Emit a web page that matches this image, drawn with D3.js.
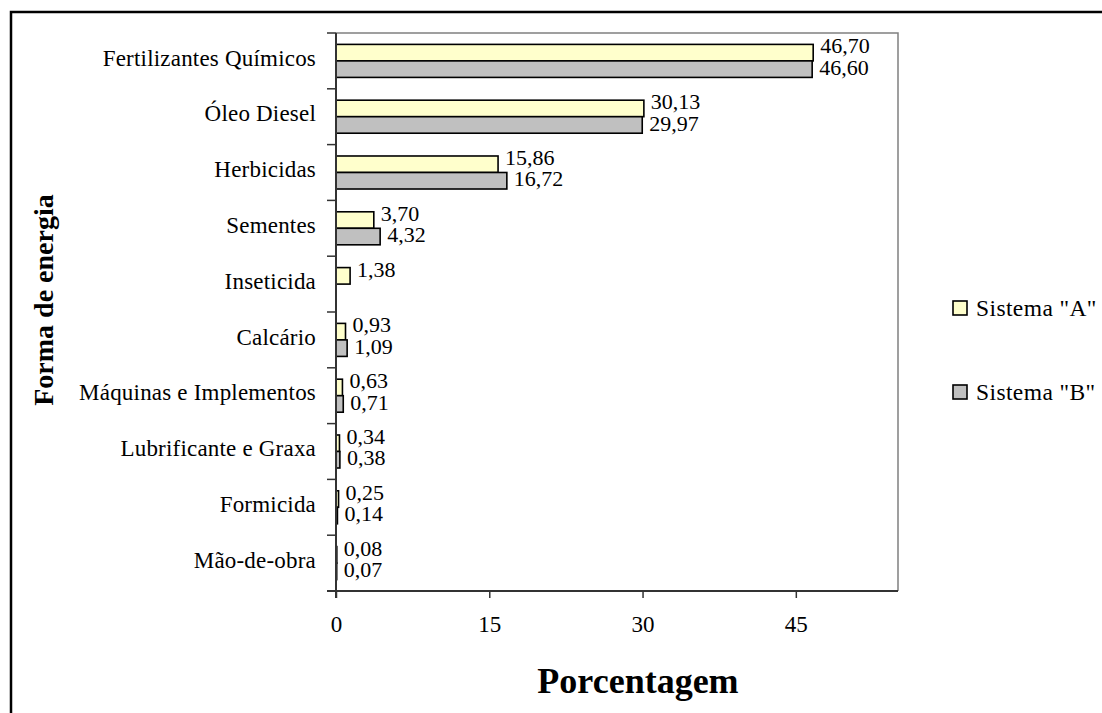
<!DOCTYPE html>
<html>
<head>
<meta charset="utf-8">
<script src="https://cdn.jsdelivr.net/npm/d3@7"></script>
<style>
  html, body { margin: 0; padding: 0; background: #fff; }
  svg { display: block; }
  text { font-family: "Liberation Serif", "Times New Roman", serif; fill: #000; }
</style>
</head>
<body>
<svg id="chart" width="1102" height="713"></svg>
<script>
// Energy inputs (percentage of total) for two production systems
const categories = [
  "Fertilizantes Químicos", "Óleo Diesel", "Herbicidas", "Sementes", "Inseticida",
  "Calcário", "Máquinas e Implementos", "Lubrificante e Graxa", "Formicida", "Mão-de-obra"
];
const sistemaA = [46.70, 30.13, 15.86, 3.70, 1.38, 0.93, 0.63, 0.34, 0.25, 0.08];
const sistemaB = [46.60, 29.97, 16.72, 4.32, null, 1.09, 0.71, 0.38, 0.14, 0.07];
const seriesNames = ['Sistema "A"', 'Sistema "B"'];
const xTicks = [0, 15, 30, 45];
const xMax = 55;

const svg = d3.select("#chart");
const plot = { left: 336, top: 33, right: 898, bottom: 591 };
const colors = ["#FFFFCC", "#C0C0C0"];
const serif = '"Liberation Serif", "Times New Roman", serif';

// Outer chart frame (continues past the visible page)
svg.append("rect")
  .attr("x", 11).attr("y", 12).attr("width", 1300).attr("height", 900)
  .attr("fill", "none").attr("stroke", "#000").attr("stroke-width", 2.5);

const x = d3.scaleLinear().domain([0, xMax]).range([plot.left, plot.right]);
const y0 = d3.scaleBand().domain(categories).range([plot.top, plot.bottom]).padding(0);
const y1 = d3.scaleBand().domain([0, 1]).range([0, y0.bandwidth()])
  .paddingInner(0).paddingOuter(0.69);

// Plot-area frame (top and right edges)
svg.append("path")
  .attr("d", `M${plot.left},${plot.top}H${plot.right}V${plot.bottom}`)
  .attr("fill", "none").attr("stroke", "#808080").attr("stroke-width", 1.5);

// Bars
const rows = [];
categories.forEach((c, i) => {
  [sistemaA[i], sistemaB[i]].forEach((v, s) => {
    if (v !== null) rows.push({ cat: c, s, v });
  });
});

svg.append("g").selectAll("rect").data(rows).join("rect")
  .attr("x", x(0))
  .attr("y", d => y0(d.cat) + y1(d.s))
  .attr("width", d => x(d.v) - x(0))
  .attr("height", y1.bandwidth())
  .attr("fill", d => colors[d.s])
  .attr("stroke", "#000").attr("stroke-width", 1.6);

// Value labels
const fmt = v => d3.format(".2f")(v).replace(".", ",");
const labelDy = [-7, -2];
svg.append("g").selectAll("text").data(rows).join("text")
  .attr("x", d => x(d.v) + 7)
  .attr("y", d => y0(d.cat) + y1(d.s) + y1.bandwidth() / 2 + labelDy[d.s])
  .attr("dy", "0.35em")
  .attr("font-size", 22)
  .text(d => fmt(d.v));

// Y axis: category boundaries as ticks
const yAxisG = svg.append("g");
yAxisG.append("line")
  .attr("x1", plot.left).attr("x2", plot.left)
  .attr("y1", plot.top).attr("y2", plot.bottom + 7)
  .attr("stroke", "#333").attr("stroke-width", 2);
const bounds = categories.map(c => y0(c)).concat([plot.bottom]);
yAxisG.selectAll("line.tick").data(bounds).join("line")
  .attr("class", "tick")
  .attr("x1", plot.left - 9).attr("x2", plot.left)
  .attr("y1", d => d).attr("y2", d => d)
  .attr("stroke", "#333").attr("stroke-width", 1.5);
yAxisG.selectAll("text").data(categories).join("text")
  .attr("x", plot.left - 20)
  .attr("y", d => y0(d) + y0.bandwidth() / 2)
  .attr("dy", "0.2em")
  .attr("text-anchor", "end")
  .attr("font-size", 23)
  .attr("letter-spacing", 0.2)
  .text(d => d);

// X axis
const xAxis = d3.axisBottom(x).tickValues(xTicks).tickSize(7).tickPadding(18).tickFormat(d3.format("d"));
const xg = svg.append("g").attr("transform", `translate(0,${plot.bottom})`).call(xAxis);
xg.attr("font-family", serif);
xg.select(".domain").attr("stroke", "#333").attr("stroke-width", 2)
  .attr("d", `M${plot.left - 9},0H${plot.right}`);
xg.selectAll(".tick line").attr("stroke", "#333").attr("stroke-width", 1.5);
xg.selectAll(".tick text")
  .attr("font-family", serif)
  .attr("font-size", 23).attr("fill", "#000");

// Axis titles
svg.append("text")
  .attr("x", 638).attr("y", 693)
  .attr("text-anchor", "middle")
  .attr("font-size", 36).attr("font-weight", "bold")
  .text("Porcentagem");
svg.append("text")
  .attr("transform", "translate(53,300) rotate(-90)")
  .attr("text-anchor", "middle")
  .attr("font-size", 28).attr("font-weight", "bold")
  .text("Forma de energia");

// Legend
const legend = svg.append("g");
const legendY = [308, 392];
seriesNames.forEach((name, i) => {
  legend.append("rect")
    .attr("x", 953).attr("y", legendY[i] - 7).attr("width", 14).attr("height", 14)
    .attr("fill", colors[i]).attr("stroke", "#000").attr("stroke-width", 1.6);
  legend.append("text")
    .attr("x", 976).attr("y", legendY[i]).attr("dy", "0.35em")
    .attr("font-size", 23.5)
    .attr("letter-spacing", 0.4)
    .text(name);
});
</script>
</body>
</html>
